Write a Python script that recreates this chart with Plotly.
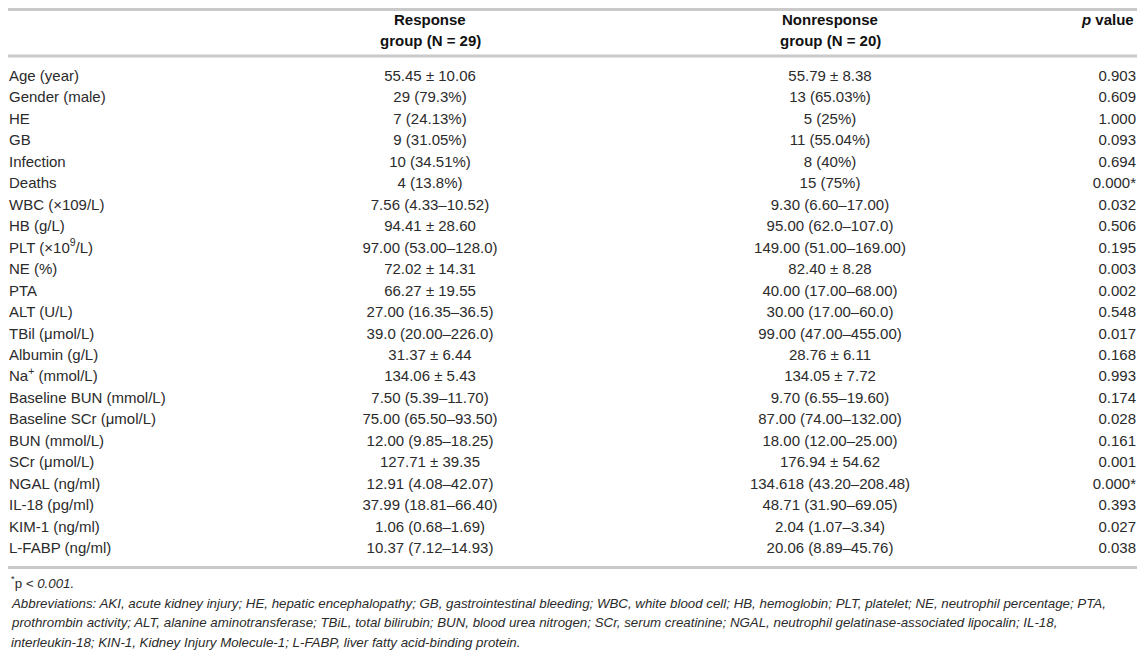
import plotly.graph_objects as go

labels = ["Age (year)", "Gender (male)", "HE", "GB", "Infection", "Deaths",
          "WBC (×109/L)", "HB (g/L)", "PLT (×10<sup>9</sup>/L)", "NE (%)", "PTA",
          "ALT (U/L)", "TBil (μmol/L)", "Albumin (g/L)", "Na<sup>+</sup> (mmol/L)",
          "Baseline BUN (mmol/L)", "Baseline SCr (μmol/L)", "BUN (mmol/L)",
          "SCr (μmol/L)", "NGAL (ng/ml)", "IL-18 (pg/ml)", "KIM-1 (ng/ml)",
          "L-FABP (ng/ml)"]

response = ["55.45 ± 10.06", "29 (79.3%)", "7 (24.13%)", "9 (31.05%)", "10 (34.51%)",
            "4 (13.8%)", "7.56 (4.33–10.52)", "94.41 ± 28.60", "97.00 (53.00–128.0)",
            "72.02 ± 14.31", "66.27 ± 19.55", "27.00 (16.35–36.5)", "39.0 (20.00–226.0)",
            "31.37 ± 6.44", "134.06 ± 5.43", "7.50 (5.39–11.70)", "75.00 (65.50–93.50)",
            "12.00 (9.85–18.25)", "127.71 ± 39.35", "12.91 (4.08–42.07)",
            "37.99 (18.81–66.40)", "1.06 (0.68–1.69)", "10.37 (7.12–14.93)"]

nonresponse = ["55.79 ± 8.38", "13 (65.03%)", "5 (25%)", "11 (55.04%)", "8 (40%)",
               "15 (75%)", "9.30 (6.60–17.00)", "95.00 (62.0–107.0)",
               "149.00 (51.00–169.00)", "82.40 ± 8.28", "40.00 (17.00–68.00)",
               "30.00 (17.00–60.0)", "99.00 (47.00–455.00)", "28.76 ± 6.11",
               "134.05 ± 7.72", "9.70 (6.55–19.60)", "87.00 (74.00–132.00)",
               "18.00 (12.00–25.00)", "176.94 ± 54.62", "134.618 (43.20–208.48)",
               "48.71 (31.90–69.05)", "2.04 (1.07–3.34)", "20.06 (8.89–45.76)"]

p_values = ["0.903", "0.609", "1.000", "0.093", "0.694", "0.000*", "0.032", "0.506",
            "0.195", "0.003", "0.002", "0.548", "0.017", "0.168", "0.993", "0.174",
            "0.028", "0.161", "0.001", "0.000*", "0.393", "0.027", "0.038"]

headers = [["Response", "group (N = 29)"],
           ["Nonresponse", "group (N = 20)"],
           ["<i>p</i> value"]]

footnote = "<sup>*</sup>p <i>< 0.001.</i>"
abbrev = ["Abbreviations: AKI, acute kidney injury; HE, hepatic encephalopathy; GB, gastrointestinal bleeding; WBC, white blood cell; HB, hemoglobin; PLT, platelet; NE, neutrophil percentage; PTA,",
          "prothrombin activity; ALT, alanine aminotransferase; TBiL, total bilirubin; BUN, blood urea nitrogen; SCr, serum creatinine; NGAL, neutrophil gelatinase-associated lipocalin; IL-18,",
          "interleukin-18; KIN-1, Kidney Injury Molecule-1; L-FABP, liver fatty acid-binding protein."]

# the page puts the plot 8px in from the window corner (body margin), so the
# figure is shrunk to fit the window and the axes read in window pixels
W, H = 1145, 658
off = 8
row0, step = 77, 21.48
rows_y = [row0 + i * step for i in range(len(labels))]
col_x = [off + 1, 430, 830, 1136]
txt = "#2b2b2b"
fam = "Liberation Sans, Arial, sans-serif"
fnt = dict(family=fam, size=15, color=txt)
hfnt = dict(family=fam, size=15, color="#111")
small = dict(family=fam, size=13.3, color=txt)

fig = go.Figure()
fig.add_trace(go.Scatter(x=[col_x[0]] * len(labels), y=rows_y, text=labels, mode="text",
                         textposition="middle right", textfont=fnt, hoverinfo="skip",
                         cliponaxis=False))
fig.add_trace(go.Scatter(x=[col_x[1]] * len(response), y=rows_y, text=response, mode="text",
                         textposition="middle center", textfont=fnt, hoverinfo="skip",
                         cliponaxis=False))
fig.add_trace(go.Scatter(x=[col_x[2]] * len(nonresponse), y=rows_y, text=nonresponse, mode="text",
                         textposition="middle center", textfont=fnt, hoverinfo="skip",
                         cliponaxis=False))
fig.add_trace(go.Scatter(x=[col_x[3]] * len(p_values), y=rows_y, text=p_values, mode="text",
                         textposition="middle left", textfont=fnt, hoverinfo="skip",
                         cliponaxis=False))

# header, two lines
for ci, lines in zip([1, 2, 3], headers):
    for li, t in enumerate(lines):
        fig.add_annotation(x=col_x[ci], y=19.5 + li * 21, text="<b>" + t + "</b>",
                           showarrow=False, font=hfnt,
                           xanchor="right" if ci == 3 else "center", yanchor="middle")

# footnotes
fig.add_annotation(x=col_x[0], y=582, text=footnote, showarrow=False, font=small,
                   xanchor="left", yanchor="middle")
for i, line in enumerate(abbrev):
    fig.add_annotation(x=col_x[0], y=603 + i * 19.5, text="<i>" + line + "</i>",
                       showarrow=False, font=small, xanchor="left", yanchor="middle")

# horizontal rules
for yy in [off + 1.5, 56, 567.5]:
    fig.add_shape(type="line", x0=off, x1=W - off, y0=yy, y1=yy, xref="x", yref="y",
                  line=dict(color="#c9c9c9", width=3))

fig.update_layout(width=W - 2 * off, height=H - 2 * off, margin=dict(l=0, r=0, t=0, b=0),
                  paper_bgcolor="white", plot_bgcolor="white", showlegend=False,
                  xaxis=dict(range=[off, W - off], visible=False, fixedrange=True),
                  yaxis=dict(range=[H - off, off], visible=False, fixedrange=True))

fig.write_html("out.html")
